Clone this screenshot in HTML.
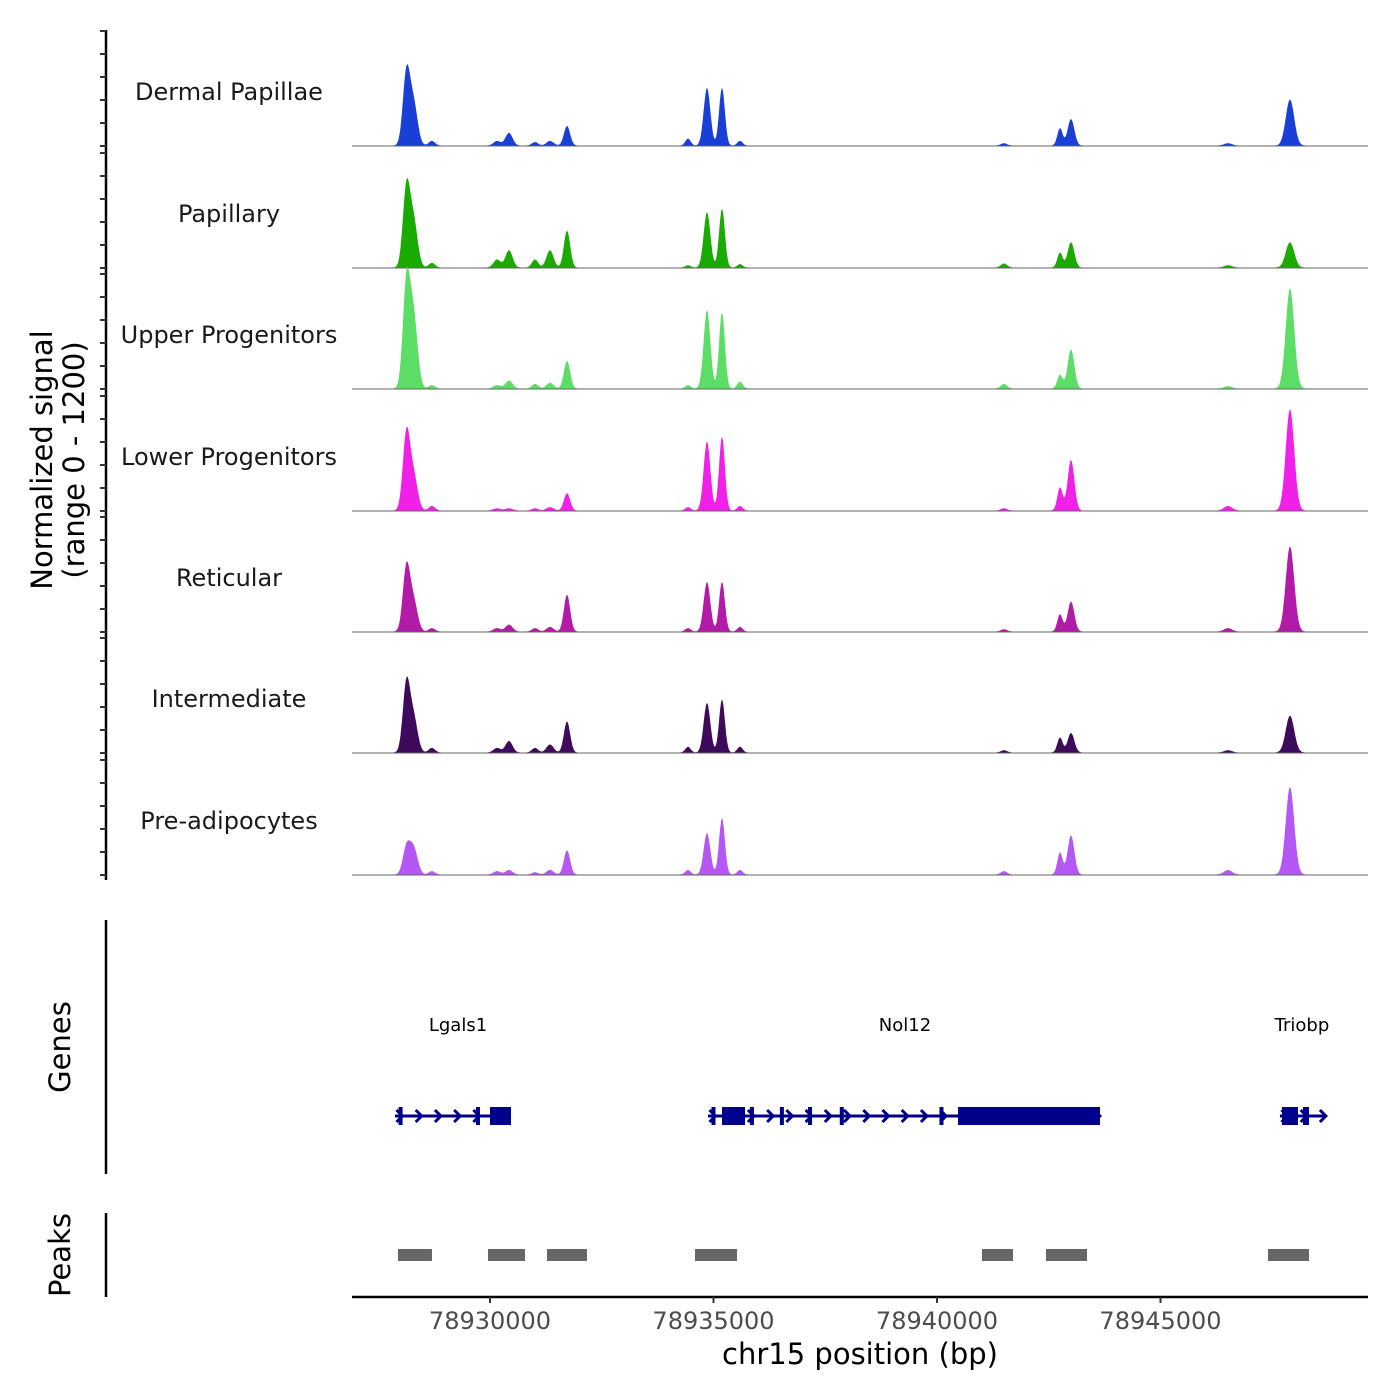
<!DOCTYPE html>
<html><head><meta charset="utf-8"><style>
html,body{margin:0;padding:0;background:#fff}
svg{display:block;font-family:"DejaVu Sans","Liberation Sans",sans-serif}
</style></head><body>
<svg id="chart" width="1400" height="1400" viewBox="0 0 1400 1400"></svg>
<script>
const trackNames = ["Dermal Papillae","Papillary","Upper Progenitors","Lower Progenitors","Reticular","Intermediate","Pre-adipocytes"];
const trackColors = ["#1a3fd6","#1aab00","#5cdd66","#f020e8","#b21aa8","#3d0a5c","#b557f5"];
const peakCenters = [78928130,78928290,78928700,78930157,78930425,78931007,78931342,78931723,78934430,78934855,78935190,78935593,78941499,78942752,78942998,78947897,78946510];
const peakSigmas  = [80,90,70,80,80,70,80,70,60,75,65,60,70,60,75,95,90];
const heightsDP   = [620,360,40,40,110,30,40,170,60,500,500,40,20,150,230,400,20];
const heightsPap  = [680,400,40,70,150,70,150,320,20,480,510,30,35,130,220,220,20];
const heightsUp   = [900,620,30,30,70,40,50,240,30,680,660,60,40,120,340,870,20];
const heightsLow  = [660,300,40,20,20,20,30,150,30,600,640,40,20,200,440,880,40];
const heightsRet  = [550,260,30,30,60,30,40,320,30,430,430,40,20,150,260,740,30];
const heightsInt  = [590,300,40,40,100,40,70,270,50,430,460,50,20,130,170,320,20];
const heightsPre  = [230,230,30,30,40,20,40,210,40,360,490,40,30,190,340,760,40];
const trackHeights = [heightsDP,heightsPap,heightsUp,heightsLow,heightsRet,heightsInt,heightsPre];
const xTicks = [78930000,78935000,78940000,78945000];
const geneLabels = ["Lgals1","Nol12","Triobp"];
const geneLabelPos = [78929284,78939284,78948165];
const geneStarts = [78927875,78934877,78947673];
const geneEnds = [78930470,78943647,78948680];
const exonStarts = [78929687,78930000,78935190,78940470,78947718,78948188];
const exonEnds   = [78929776,78930470,78935705,78943647,78948076,78948322];
const smallExons = [78928000,78935000,78935860,78936530,78937160,78937870,78940100];
const peakStarts = [78927942,78929955,78931275,78934586,78941007,78942438,78947405];
const peakEnds   = [78928702,78930783,78932170,78935526,78941700,78943356,78948322];

const NS="http://www.w3.org/2000/svg";
const svg=document.getElementById('chart');
function xs(bp){return 490+(bp-78930000)*0.04470;}
const bases=[146,268,389,511,632,753,875];
const yscale=v=>v*0.115;
function el(tag,attrs,parent){const e=document.createElementNS(NS,tag);for(const k in attrs)e.setAttribute(k,attrs[k]);(parent||svg).appendChild(e);return e;}

const yax=el('line',{x1:106,y1:30,x2:106,y2:880,stroke:'#000','stroke-width':2.5});


bases.forEach(b=>{for(let i=0;i<=5;i++){const y=b-i*23;const t=el('line',{x1:100,y1:y,x2:106,y2:y,stroke:'#333','stroke-width':2});}});
const yt=el('text',{transform:'translate(52,460) rotate(-90)','text-anchor':'middle','font-size':29,fill:'#000'});


el('tspan',{x:0,dy:0},yt).textContent='Normalized signal';
el('tspan',{x:0,dy:32},yt).textContent='(range 0 - 1200)';

const xmin=352,xmax=1368;
trackNames.forEach((name,ti)=>{
  const b=bases[ti];const h=trackHeights[ti];
  const g=el('g',{});
  
  
  let d='M'+xs(78927800)+','+b;
  for(let bp=78927800;bp<=78948600;bp+=15){
    let v=0;for(let k=0;k<peakCenters.length;k++){const z=(bp-peakCenters[k])/peakSigmas[k];v+=h[k]*Math.exp(-0.5*z*z);}
    v+=4;
    d+=' L'+xs(bp).toFixed(1)+','+(b-yscale(v)).toFixed(1);
  }
  d+=' L'+xs(78948600)+','+b+' Z';
  const p=el('path',{d:d,fill:trackColors[ti]},g);
  
  
  const bl=el('line',{x1:xmin,y1:b,x2:xmax,y2:b,stroke:'#666','stroke-width':1},g);
  
  
  const lab=el('text',{x:229,y:b-46,'text-anchor':'middle','font-size':24,fill:'#1a1a1a'},g);
  
  
  lab.textContent=name;
});

const ga=el('line',{x1:106,y1:920,x2:106,y2:1174,stroke:'#000','stroke-width':2.5});


const gt=el('text',{transform:'translate(70,1047) rotate(-90)','text-anchor':'middle','font-size':29});


gt.textContent='Genes';
const gy=1116;
geneLabels.forEach((n,i)=>{
  const t=el('text',{x:xs(geneLabelPos[i]),y:1031,'text-anchor':'middle','font-size':18});
  
  
  t.textContent=n;
  const ln=el('line',{x1:xs(geneStarts[i]),y1:gy,x2:xs(geneEnds[i]),y2:gy,stroke:'#00008b','stroke-width':3});
  
  
  for(let bp=geneStarts[i]+100;bp<geneEnds[i];bp+=430){
    const x=xs(bp);
    const a=el('polyline',{points:`${x-3},${gy-6} ${x+3},${gy} ${x-3},${gy+6}`,fill:'none',stroke:'#00008b','stroke-width':3});
    
    
  }
});
exonStarts.forEach((s,i)=>{
  const r=el('rect',{x:xs(s),y:gy-9,width:xs(exonEnds[i])-xs(s),height:18,fill:'#00008b'});
  
  
});
smallExons.forEach(s=>{
  const r=el('rect',{x:xs(s)-2,y:gy-9,width:4,height:18,fill:'#00008b'});
  
  
});

const pa=el('line',{x1:106,y1:1213,x2:106,y2:1297,stroke:'#000','stroke-width':2.5});


const pt=el('text',{transform:'translate(70,1255) rotate(-90)','text-anchor':'middle','font-size':29});


pt.textContent='Peaks';
peakStarts.forEach((s,i)=>{
  const r=el('rect',{x:xs(s),y:1249,width:xs(peakEnds[i])-xs(s),height:12,fill:'#666'});
  
  
});

const xa=el('line',{x1:352,y1:1297,x2:1368,y2:1297,stroke:'#000','stroke-width':2.5});


xTicks.forEach(v=>{
  const x=xs(v);
  const t=el('line',{x1:x,y1:1297,x2:x,y2:1303,stroke:'#333','stroke-width':2});
  
  
  const l=el('text',{x:x,y:1329,'text-anchor':'middle','font-size':24,fill:'#4d4d4d'});
  
  
  l.textContent=v;
});
const xt=el('text',{x:860,y:1364,'text-anchor':'middle','font-size':29});


xt.textContent='chr15 position (bp)';
</script>
</body></html>
